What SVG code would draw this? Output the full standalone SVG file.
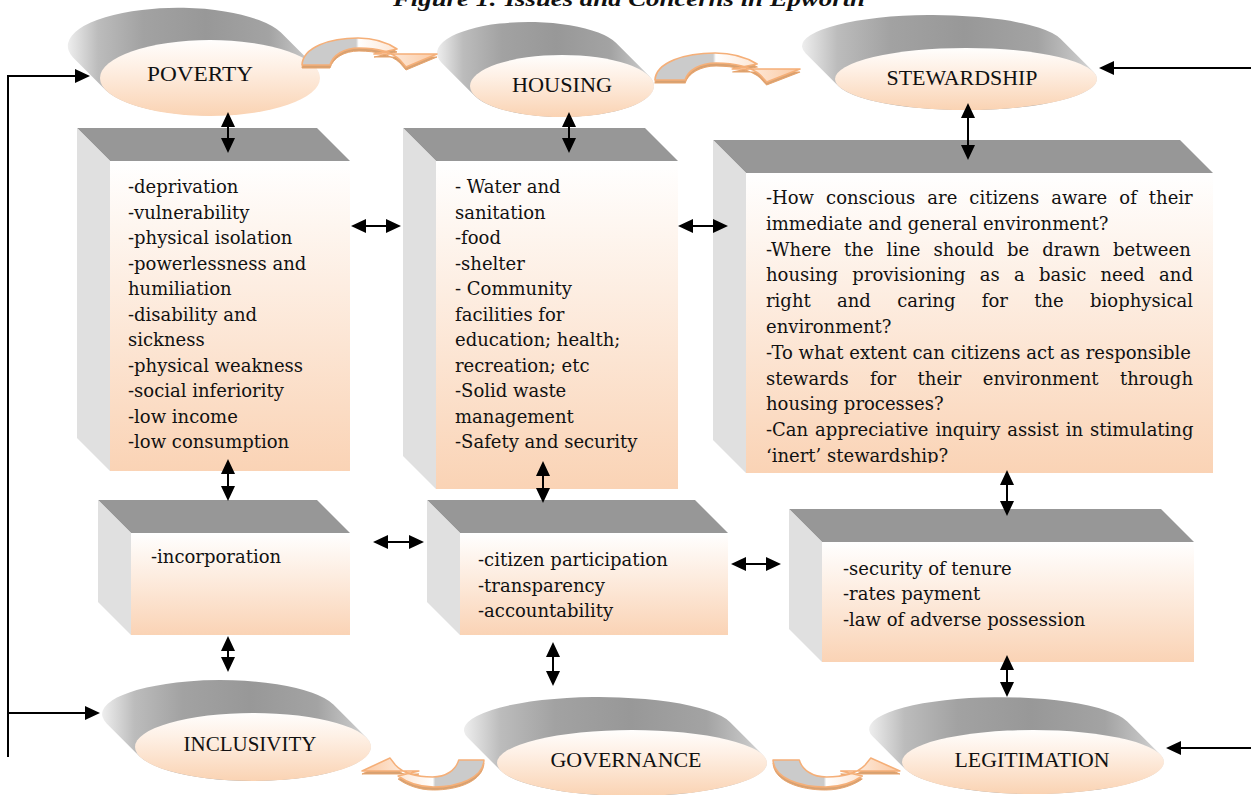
<svg xmlns="http://www.w3.org/2000/svg" xmlns:xlink="http://www.w3.org/1999/xlink" width="1251" height="795" viewBox="0 0 1251 795">
<defs>
<style>
.t{font-family:"DejaVu Serif",serif;font-size:18px;fill:#111}
.lbl{font-family:"Liberation Serif","Times New Roman",serif;font-size:22px;fill:#111;text-anchor:middle}
.lf{fill:#e0e0e0}
.tf{fill:#979797}
.ff{fill:url(#gbox)}
.band{fill:url(#gband)}
.face{fill:url(#gpe)}
.conn{stroke:#000;stroke-width:2;fill:none}
.ca{fill:url(#gca);stroke:#f5af78;stroke-width:1.6;stroke-linejoin:round}
.cash{fill:#d7a171;stroke:#e6a36c;stroke-width:1}
</style>
<linearGradient id="gbox" x1="0" y1="0" x2="0" y2="1">
<stop offset="0" stop-color="#ffffff"/>
<stop offset="1" stop-color="#fad3b5"/>
</linearGradient>
<linearGradient id="gpe" x1="0" y1="0" x2="0" y2="1">
<stop offset="0" stop-color="#fffefd"/>
<stop offset="0.35" stop-color="#fef0e5"/>
<stop offset="1" stop-color="#fad3b3"/>
</linearGradient>
<linearGradient id="gband" x1="0" y1="0" x2="1" y2="0">
<stop offset="0" stop-color="#eeeeee"/>
<stop offset="0.12" stop-color="#bcbcbc"/>
<stop offset="0.3" stop-color="#a2a2a2"/>
<stop offset="0.55" stop-color="#989898"/>
<stop offset="0.8" stop-color="#a3a3a3"/>
<stop offset="0.93" stop-color="#c3c3c3"/>
<stop offset="1" stop-color="#dddddd"/>
</linearGradient>
<linearGradient id="gca" x1="0" y1="0" x2="1" y2="0">
<stop offset="0" stop-color="#cbcbcb"/>
<stop offset="0.4" stop-color="#cbcbcb"/>
<stop offset="0.42" stop-color="#ffffff"/>
<stop offset="1" stop-color="#fbc9a2"/>
</linearGradient>
<path id="carrow" d="M0,28 C1,10 28,1 56,1 C72,1 86,6 95,12 L72,17 L135,17 L104,30 L98,23 C90,15 74,11 57,11 C42,11 31,18 28,28 Z"/>
<marker id="ah" viewBox="0 0 15 14" refX="13" refY="7" markerWidth="15" markerHeight="14" markerUnits="userSpaceOnUse" orient="auto-start-reverse">
<path d="M0,0 L15,7 L0,14 Z" fill="#000"/>
</marker>
<clipPath id="clip3"><rect x="746" y="173" width="467" height="290"/></clipPath>
</defs>

<rect x="0" y="0" width="1251" height="795" fill="#ffffff"/>

<text x="629" y="6" text-anchor="middle" font-family="Liberation Serif, serif" font-style="italic" font-weight="bold" font-size="22" textLength="472" lengthAdjust="spacingAndGlyphs" fill="#111">Figure 1: Issues and Concerns in Epworth</text>

<!-- Boxes -->
<g id="box-poverty-list">
<polygon class="tf" points="77,128 317,128 350,161 110,161"/>
<polygon class="lf" points="77,128 110,161 110,471 77,438"/>
<rect class="ff" x="110" y="161" width="240" height="310"/>
<text class="t">
<tspan x="128" y="193">-deprivation</tspan>
<tspan x="128" y="218.5">-vulnerability</tspan>
<tspan x="128" y="244">-physical isolation</tspan>
<tspan x="128" y="269.5">-powerlessness and</tspan>
<tspan x="128" y="295">humiliation</tspan>
<tspan x="128" y="320.5">-disability and</tspan>
<tspan x="128" y="346">sickness</tspan>
<tspan x="128" y="371.5">-physical weakness</tspan>
<tspan x="128" y="397">-social inferiority</tspan>
<tspan x="128" y="422.5">-low income</tspan>
<tspan x="128" y="448">-low consumption</tspan>
</text>
</g>

<g id="box-housing-list">
<polygon class="tf" points="403,128 645,128 678,161 436,161"/>
<polygon class="lf" points="403,128 436,161 436,489 403,456"/>
<rect class="ff" x="436" y="161" width="242" height="328"/>
<text class="t">
<tspan x="455" y="193">- Water and</tspan>
<tspan x="455" y="218.5">sanitation</tspan>
<tspan x="455" y="244">-food</tspan>
<tspan x="455" y="269.5">-shelter</tspan>
<tspan x="455" y="295">- Community</tspan>
<tspan x="455" y="320.5">facilities for</tspan>
<tspan x="455" y="346">education; health;</tspan>
<tspan x="455" y="371.5">recreation; etc</tspan>
<tspan x="455" y="397">-Solid waste</tspan>
<tspan x="455" y="422.5">management</tspan>
<tspan x="455" y="448">-Safety and security</tspan>
</text>
</g>

<g id="box-stewardship-questions">
<polygon class="tf" points="713,140 1180,140 1213,173 746,173"/>
<polygon class="lf" points="713,140 746,173 746,473 713,440"/>
<rect class="ff" x="746" y="173" width="467" height="300"/>
<g clip-path="url(#clip3)">
<text class="t" x="766" y="204" word-spacing="6.3">-How conscious are citizens aware of their</text>
<text class="t" x="766" y="229.8">immediate and general environment?</text>
<text class="t" x="766" y="255.6" word-spacing="7.3">-Where the line should be drawn between</text>
<text class="t" x="766" y="281.4" word-spacing="8.5">housing provisioning as a basic need and</text>
<text class="t" x="766" y="307.2" word-spacing="20.6">right and caring for the biophysical</text>
<text class="t" x="766" y="333">environment?</text>
<text class="t" x="766" y="358.8">-To what extent can citizens act as responsible</text>
<text class="t" x="766" y="384.6" word-spacing="15.7">stewards for their environment through</text>
<text class="t" x="766" y="410.4">housing processes?</text>
<text class="t" x="766" y="436.2" word-spacing="1.2">-Can appreciative inquiry assist in stimulating</text>
<text class="t" x="766" y="462">‘inert’ stewardship?</text>
</g>
</g>

<g id="box-inclusivity-list">
<polygon class="tf" points="98,500 317,500 350,533 131,533"/>
<polygon class="lf" points="98,500 131,533 131,635 98,602"/>
<rect class="ff" x="131" y="533" width="219" height="102"/>
<text class="t" x="151" y="563">-incorporation</text>
</g>

<g id="box-governance-list">
<polygon class="tf" points="427,500 695,500 728,533 460,533"/>
<polygon class="lf" points="427,500 460,533 460,635 427,602"/>
<rect class="ff" x="460" y="533" width="268" height="102"/>
<text class="t">
<tspan x="478" y="566">-citizen participation</tspan>
<tspan x="478" y="592">-transparency</tspan>
<tspan x="478" y="617">-accountability</tspan>
</text>
</g>

<g id="box-legitimation-list">
<polygon class="tf" points="789,509 1161,509 1194,542 822,542"/>
<polygon class="lf" points="789,509 822,542 822,662 789,629"/>
<rect class="ff" x="822" y="542" width="372" height="120"/>
<text class="t">
<tspan x="843" y="575">-security of tenure</tspan>
<tspan x="843" y="600">-rates payment</tspan>
<tspan x="843" y="626">-law of adverse possession</tspan>
</text>
</g>

<!-- Disc nodes -->
<g id="node-poverty">
<path class="band" d="M73.05,57.4 A110,38 0 0 1 280.95,32.6 L313.95,65.6 A110,38 0 0 1 106.05,90.4 Z"/>
<ellipse class="face" cx="210" cy="78" rx="110" ry="38"/>
<text class="lbl" x="200" y="81" textLength="106" lengthAdjust="spacingAndGlyphs">POVERTY</text>
</g>
<g id="node-housing">
<path class="band" d="M441.81,62.9 A92,31 0 0 1 616.19,43.1 L649.19,76.1 A92,31 0 0 1 474.81,95.9 Z"/>
<ellipse class="face" cx="562" cy="86" rx="92" ry="31"/>
<text class="lbl" x="562" y="92" textLength="100" lengthAdjust="spacingAndGlyphs">HOUSING</text>
</g>
<g id="node-stewardship">
<path class="band" d="M805.52,53.14 A131,31 0 0 1 1060.48,38.86 L1093.48,71.86 A131,31 0 0 1 838.52,86.14 Z"/>
<ellipse class="face" cx="966" cy="79" rx="131" ry="31"/>
<text class="lbl" x="962" y="85" textLength="151" lengthAdjust="spacingAndGlyphs">STEWARDSHIP</text>
</g>
<g id="node-inclusivity">
<path class="band" d="M106.61,723.41 A118,34 0 0 1 333.39,704.59 L366.39,737.59 A118,34 0 0 1 139.61,756.41 Z"/>
<ellipse class="face" cx="253" cy="747" rx="118" ry="34"/>
<text class="lbl" x="250" y="751" textLength="133" lengthAdjust="spacingAndGlyphs">INCLUSIVITY</text>
</g>
<g id="node-governance">
<path class="band" d="M467.86,737.84 A135,33 0 0 1 730.14,722.16 L763.14,755.16 A135,33 0 0 1 500.86,770.84 Z"/>
<ellipse class="face" cx="632" cy="763" rx="135" ry="33"/>
<text class="lbl" x="626" y="767" textLength="151" lengthAdjust="spacingAndGlyphs">GOVERNANCE</text>
</g>
<g id="node-legitimation">
<path class="band" d="M872.74,736.59 A131,32 0 0 1 1127.26,721.41 L1160.26,754.41 A131,32 0 0 1 905.74,769.59 Z"/>
<ellipse class="face" cx="1033" cy="762" rx="131" ry="32"/>
<text class="lbl" x="1032" y="767" textLength="155" lengthAdjust="spacingAndGlyphs">LEGITIMATION</text>
</g>

<!-- Curved block arrows -->
<g id="curved-arrows">
<use xlink:href="#carrow" href="#carrow" class="cash" transform="translate(302,40)"/>
<use xlink:href="#carrow" href="#carrow" class="ca" transform="translate(302,37)"/>
<use xlink:href="#carrow" href="#carrow" class="cash" transform="translate(655,55) scale(1.074,1)"/>
<use xlink:href="#carrow" href="#carrow" class="ca" transform="translate(655,52) scale(1.074,1)"/>
<use xlink:href="#carrow" href="#carrow" class="cash" transform="translate(484,791) scale(-0.904,-1)"/>
<use xlink:href="#carrow" href="#carrow" class="ca" transform="translate(484,788) scale(-0.904,-1)"/>
<use xlink:href="#carrow" href="#carrow" class="cash" transform="translate(773,791) scale(0.94,-1)"/>
<use xlink:href="#carrow" href="#carrow" class="ca" transform="translate(773,788) scale(0.94,-1)"/>
</g>

<!-- Connectors -->
<g id="connectors">
<line class="conn" x1="228" y1="114" x2="228" y2="151" marker-start="url(#ah)" marker-end="url(#ah)"/>
<line class="conn" x1="569" y1="114" x2="569" y2="151" marker-start="url(#ah)" marker-end="url(#ah)"/>
<line class="conn" x1="968" y1="105" x2="968" y2="158" marker-start="url(#ah)" marker-end="url(#ah)"/>
<line class="conn" x1="228" y1="461" x2="228" y2="499" marker-start="url(#ah)" marker-end="url(#ah)"/>
<line class="conn" x1="543" y1="463" x2="543" y2="501" marker-start="url(#ah)" marker-end="url(#ah)"/>
<line class="conn" x1="1007" y1="472" x2="1007" y2="514" marker-start="url(#ah)" marker-end="url(#ah)"/>
<line class="conn" x1="228" y1="638" x2="228" y2="670" marker-start="url(#ah)" marker-end="url(#ah)"/>
<line class="conn" x1="553" y1="644" x2="553" y2="684" marker-start="url(#ah)" marker-end="url(#ah)"/>
<line class="conn" x1="1007" y1="657" x2="1007" y2="695" marker-start="url(#ah)" marker-end="url(#ah)"/>
<line class="conn" x1="353" y1="226" x2="399" y2="226" marker-start="url(#ah)" marker-end="url(#ah)"/>
<line class="conn" x1="680" y1="226" x2="726" y2="226" marker-start="url(#ah)" marker-end="url(#ah)"/>
<line class="conn" x1="375" y1="542" x2="422" y2="542" marker-start="url(#ah)" marker-end="url(#ah)"/>
<line class="conn" x1="733" y1="564" x2="779" y2="564" marker-start="url(#ah)" marker-end="url(#ah)"/>
<path class="conn" d="M8,757 V76 H88" marker-end="url(#ah)"/>
<path class="conn" d="M8,713 H98" marker-end="url(#ah)"/>
<path class="conn" d="M1251,68 H1101" marker-end="url(#ah)"/>
<path class="conn" d="M1251,748 H1168" marker-end="url(#ah)"/>
</g>
</svg>
